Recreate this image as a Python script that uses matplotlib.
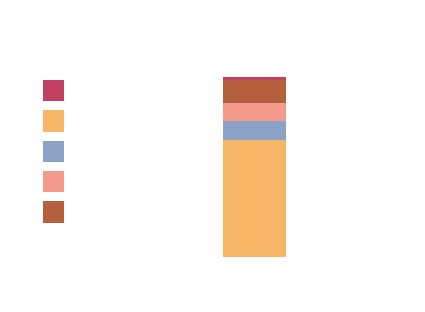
import matplotlib
matplotlib.use("Agg")
import matplotlib.pyplot as plt
from matplotlib.patches import Patch

# Series (stack order from bottom to top)
series = ["S2", "S3", "S4", "S5", "S1"]
values = [64.8, 10.4, 10.0, 13.2, 1.7]
colors = ["#f7b665", "#8ca3c8", "#f39a8b", "#b5603c", "#c44062"]

# Legend order
legend_order = ["S1", "S2", "S3", "S4", "S5"]

W, H = 425, 312
fig = plt.figure(figsize=(W / 100, H / 100), dpi=100)
bar_left, bar_right = 223, 286
bar_top, bar_bottom = 76.5, 256.7
ax = fig.add_axes([bar_left / W, (H - bar_bottom) / H,
                   (bar_right - bar_left) / W, (bar_bottom - bar_top) / H])
bottom = 0
for name, v, c in zip(series, values, colors):
    ax.bar([0], [v], bottom=bottom, width=1.0, color=c, label=name, linewidth=0)
    bottom += v
ax.set_xlim(-0.5, 0.5)
ax.set_ylim(0, sum(values))
ax.axis("off")

cmap = dict(zip(series, colors))
handles = [Patch(facecolor=cmap[n], edgecolor="none") for n in legend_order]
fs = 10
leg = fig.legend(handles, [""] * len(handles), loc="upper left",
                 bbox_to_anchor=(42.7 / W, 1 - 80 / H), bbox_transform=fig.transFigure,
                 frameon=False, fontsize=fs, handlelength=1.51, handleheight=1.97,
                 labelspacing=0.66, borderpad=0, borderaxespad=0, handletextpad=0)

fig.savefig("out.png", dpi=100)
